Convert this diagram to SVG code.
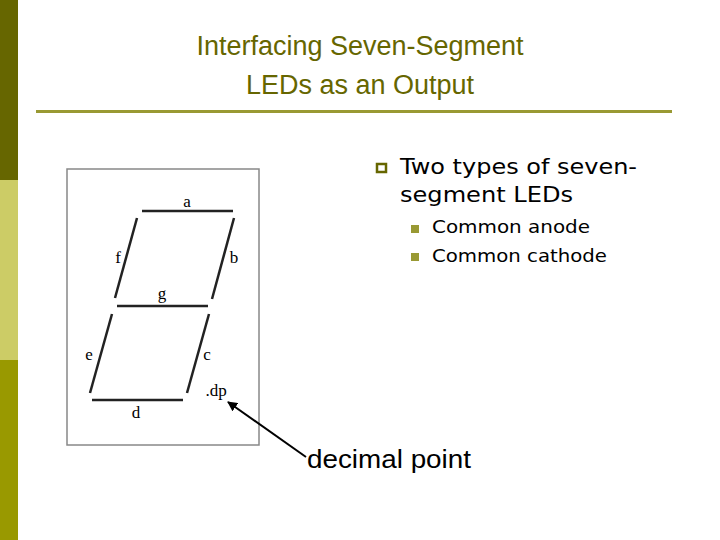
<svg xmlns="http://www.w3.org/2000/svg" width="720" height="540" viewBox="0 0 720 540">
<style>
.t{font-family:"Liberation Sans",Arial,sans-serif;fill:#000}
.v{font-family:"DejaVu Sans",Verdana,sans-serif;fill:#000}
.s{font-family:"Liberation Serif","Times New Roman",serif;font-size:17px;fill:#000;text-anchor:middle}
.seg{stroke:#222;stroke-width:2.5;stroke-linecap:butt}
</style>
<defs><marker id="ah" markerWidth="10" markerHeight="10" refX="9" refY="5" orient="auto" markerUnits="userSpaceOnUse"><path d="M0,0 L10,5 L0,10 z" fill="#000"/></marker></defs>
<rect width="720" height="540" fill="#fff"/>
<rect x="0" y="0" width="18" height="180" fill="#666600"/>
<rect x="0" y="180" width="18" height="180" fill="#cccc66"/>
<rect x="0" y="360" width="18" height="180" fill="#999900"/>
<rect x="36" y="110" width="636" height="3" fill="#999933"/>
<text class="t" x="360" y="55" font-size="27" text-anchor="middle" style="fill:#666600">Interfacing Seven-Segment</text>
<text class="t" x="360" y="94" font-size="27" text-anchor="middle" style="fill:#666600">LEDs as an Output</text>
<g id="figure">
<rect x="67" y="169" width="192" height="276" fill="#fff" stroke="#888" stroke-width="1.5"/>
<line class="seg" x1="142" y1="211" x2="233" y2="211"/>
<line class="seg" x1="137" y1="218" x2="115" y2="298"/>
<line class="seg" x1="234" y1="218" x2="212" y2="299"/>
<line class="seg" x1="117" y1="306" x2="208" y2="306"/>
<line class="seg" x1="112" y1="314" x2="90" y2="393"/>
<line class="seg" x1="209" y1="314" x2="187" y2="393"/>
<line class="seg" x1="92" y1="400" x2="183" y2="400"/>
<text class="s" x="187" y="207">a</text>
<text class="s" x="118" y="263">f</text>
<text class="s" x="234" y="263">b</text>
<text class="s" x="162" y="299">g</text>
<text class="s" x="89" y="360">e</text>
<text class="s" x="207" y="360">c</text>
<text class="s" x="216" y="396">.dp</text>
<text class="s" x="136" y="418">d</text>
</g>
<g id="connectors">
<line x1="306" y1="457" x2="228" y2="402" stroke="#000" stroke-width="2" marker-end="url(#ah)"/>
</g>
<text class="t" x="307" y="468" font-size="26" textLength="164" lengthAdjust="spacingAndGlyphs">decimal point</text>
<g id="bullets">
<rect x="377" y="164" width="9" height="8" fill="none" stroke="#666600" stroke-width="2.5"/>
<text class="v" x="400" y="174" font-size="22" textLength="237" lengthAdjust="spacingAndGlyphs">Two types of seven-</text>
<text class="v" x="400" y="202" font-size="22" textLength="173" lengthAdjust="spacingAndGlyphs">segment LEDs</text>
<rect x="411" y="225" width="8" height="8" fill="#999933"/>
<text class="v" x="432" y="233" font-size="18.5" textLength="158" lengthAdjust="spacingAndGlyphs">Common anode</text>
<rect x="411" y="253" width="8" height="8" fill="#999933"/>
<text class="v" x="432" y="262" font-size="18.5" textLength="175" lengthAdjust="spacingAndGlyphs">Common cathode</text>
</g>
</svg>
